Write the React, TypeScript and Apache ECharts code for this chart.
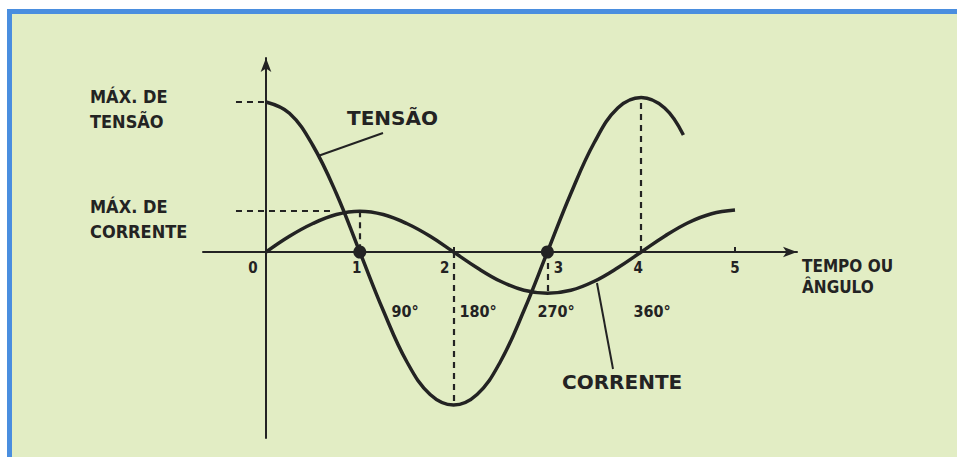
import React, { useEffect, useRef } from "react";
import * as echarts from "echarts";

// ---- data ----
const tensaoT = [0, 0.25, 0.5, 0.75, 1, 1.25, 1.5, 1.75, 2, 2.25, 2.5, 2.75, 3, 3.25, 3.5, 3.75, 4, 4.25, 4.45];
const tensaoV = [10.0, 9.25, 7.1, 3.9, 0, -3.9, -7.3, -9.5, -10.2, -9.5, -7.3, -3.9, 0, 3.9, 7.3, 9.6, 10.3, 9.6, 7.8];

const correnteT = [0, 0.25, 0.5, 0.75, 1, 1.25, 1.5, 1.75, 2, 2.25, 2.5, 2.75, 3, 3.25, 3.5, 3.75, 4, 4.25, 4.5, 4.75, 5];
const correnteV = [0, 1.05, 1.9, 2.5, 2.72, 2.5, 1.9, 1.05, 0, -1.05, -1.95, -2.55, -2.75, -2.55, -1.95, -1.05, 0, 1.05, 1.95, 2.55, 2.8];

const tickValues = [0, 1, 2, 3, 4, 5];
const tickLabels = ["0", "1", "2", "3", "4", "5"];

const crossingT = [1, 3]; // tensão crosses zero
const maxTensao = 10.0;
const maxCorrente = 2.72;
const minTensao = -10.2;
const minCorrente = -2.75;
const peakTensao2 = 10.3;

const degreeLabels = ["90°", "180°", "270°", "360°"];

// ---- styling ----
const tickLabelShift = [-13, -3, -9, 11, -3, 0];
const degX = [405, 478, 556, 652];
const INK = "#232323";
const COND = "'DejaVu Sans Condensed', 'Liberation Sans Narrow', 'DejaVu Sans', sans-serif";
const WIDE = "'DejaVu Sans', 'Liberation Sans', sans-serif";

export default function App() {
  const ref = useRef<HTMLDivElement>(null);
  useEffect(() => {
    if (!ref.current) return;
    const chart = echarts.init(ref.current, null, { renderer: "svg" });

    const dash = { color: INK, width: 2.2, type: [6, 5] as any };
    const guides = [
      [[-0.32, maxTensao], [0, maxTensao]],
      [[-0.32, maxCorrente], [0.72, maxCorrente]],
      [[1, maxCorrente], [1, 0]],
      [[2, 0], [2, minTensao]],
      [[3, 0], [3, minCorrente]],
      [[4, 0], [4, peakTensao2]],
    ];

    chart.setOption({
      animation: false,
      backgroundColor: "#e2edc4",
      grid: { left: 203, right: 160, top: 58, bottom: 19, containLabel: false },
      xAxis: {
        type: "value",
        min: (203 - 266) / 93.8,
        max: (797 - 266) / 93.8,
        splitLine: { show: false },
        axisLine: {
          onZero: true,
          lineStyle: { color: INK, width: 2 },
          symbol: ["none", "arrow"],
          symbolSize: [8, 14],
        },
        axisTick: { show: true, inside: true, length: 5, customValues: [2, 5], lineStyle: { color: INK, width: 2 } },
        axisLabel: { show: false },
      },
      yAxis: {
        type: "value",
        min: (252 - 438) / 15,
        max: (252 - 58) / 15,
        splitLine: { show: false },
        axisTick: { show: false },
        axisLabel: { show: false },
        axisLine: {
          onZero: true,
          lineStyle: { color: INK, width: 2 },
          symbol: ["none", "arrow"],
          symbolSize: [8, 14],
        },
      },
      series: [
        {
          type: "line",
          name: "TENSÃO",
          data: tensaoT.map((t, i) => [t, tensaoV[i]]),
          smooth: 0.4,
          showSymbol: false,
          lineStyle: { color: INK, width: 3.5 },
          z: 3,
          markLine: {
            silent: true,
            symbol: ["none", "none"],
            label: { show: false },
            lineStyle: dash,
            data: guides.map(([a, b]) => [{ coord: a }, { coord: b }]),
          },
        },
        {
          type: "line",
          name: "CORRENTE",
          data: correnteT.map((t, i) => [t, correnteV[i]]),
          smooth: 0.4,
          showSymbol: false,
          lineStyle: { color: INK, width: 3.5 },
          z: 3,
        },
        {
          type: "scatter",
          data: crossingT.map((t) => [t, 0]),
          symbolSize: 13,
          itemStyle: { color: INK, opacity: 1 },
          z: 4,
        },
        {
          type: "scatter",
          silent: true,
          symbolSize: 1,
          itemStyle: { color: "rgba(0,0,0,0)", opacity: 1 },
          data: tickValues.map((v, i) => ({
            value: [v, 0],
            label: {
              show: true,
              position: "bottom",
              distance: 8,
              offset: [tickLabelShift[i], 0],
              formatter: tickLabels[i],
              color: INK,
              opacity: 1,
              fontFamily: COND,
              fontWeight: "bold",
              fontSize: 15,
            },
          })),
          z: 5,
        },
      ],
      graphic: [
        { type: "rect", shape: { x: 0, y: 0, width: 957, height: 9 }, style: { fill: "#ffffff" }, z: -1 },
        { type: "rect", shape: { x: 0, y: 0, width: 7, height: 457 }, style: { fill: "#ffffff" }, z: -1 },
        { type: "rect", shape: { x: 7, y: 9, width: 950, height: 5 }, style: { fill: "#4a8edf" }, z: -1 },
        { type: "rect", shape: { x: 7, y: 9, width: 5, height: 448 }, style: { fill: "#4a8edf" }, z: -1 },
        {
          type: "text", left: 90, top: 84,
          style: { text: "MÁX. DE\nTENSÃO", fill: INK, font: `bold 18px ${COND}`, lineHeight: 25 },
        },
        {
          type: "text", left: 90, top: 194,
          style: { text: "MÁX. DE\nCORRENTE", fill: INK, font: `bold 18px ${COND}`, lineHeight: 25 },
        },
        {
          type: "text", left: 347, top: 108,
          style: { text: "TENSÃO", fill: INK, font: `bold 20px ${WIDE}` },
        },
        {
          type: "text", left: 562, top: 372,
          style: { text: "CORRENTE", fill: INK, font: `bold 20px ${WIDE}` },
        },
        {
          type: "text", left: 802, top: 255,
          style: { text: "TEMPO OU\nÂNGULO", fill: INK, font: `bold 17px ${COND}`, lineHeight: 21 },
        },
        { type: "line", shape: { x1: 383, y1: 133, x2: 318, y2: 156 }, style: { stroke: INK, lineWidth: 2 } },
        { type: "line", shape: { x1: 613, y1: 369, x2: 597, y2: 283 }, style: { stroke: INK, lineWidth: 2 } },
        ...degreeLabels.map((d, i) => ({
          type: "text",
          x: degX[i], y: 311,
          style: {
            text: d, fill: INK, font: `bold 16px ${COND}`,
            align: "center", verticalAlign: "middle",
          },
        })),
      ],
    });
    return () => chart.dispose();
  }, []);
  return <div ref={ref} style={{ position: "fixed", left: 0, top: 0, width: 957, height: 457 }} />;
}
